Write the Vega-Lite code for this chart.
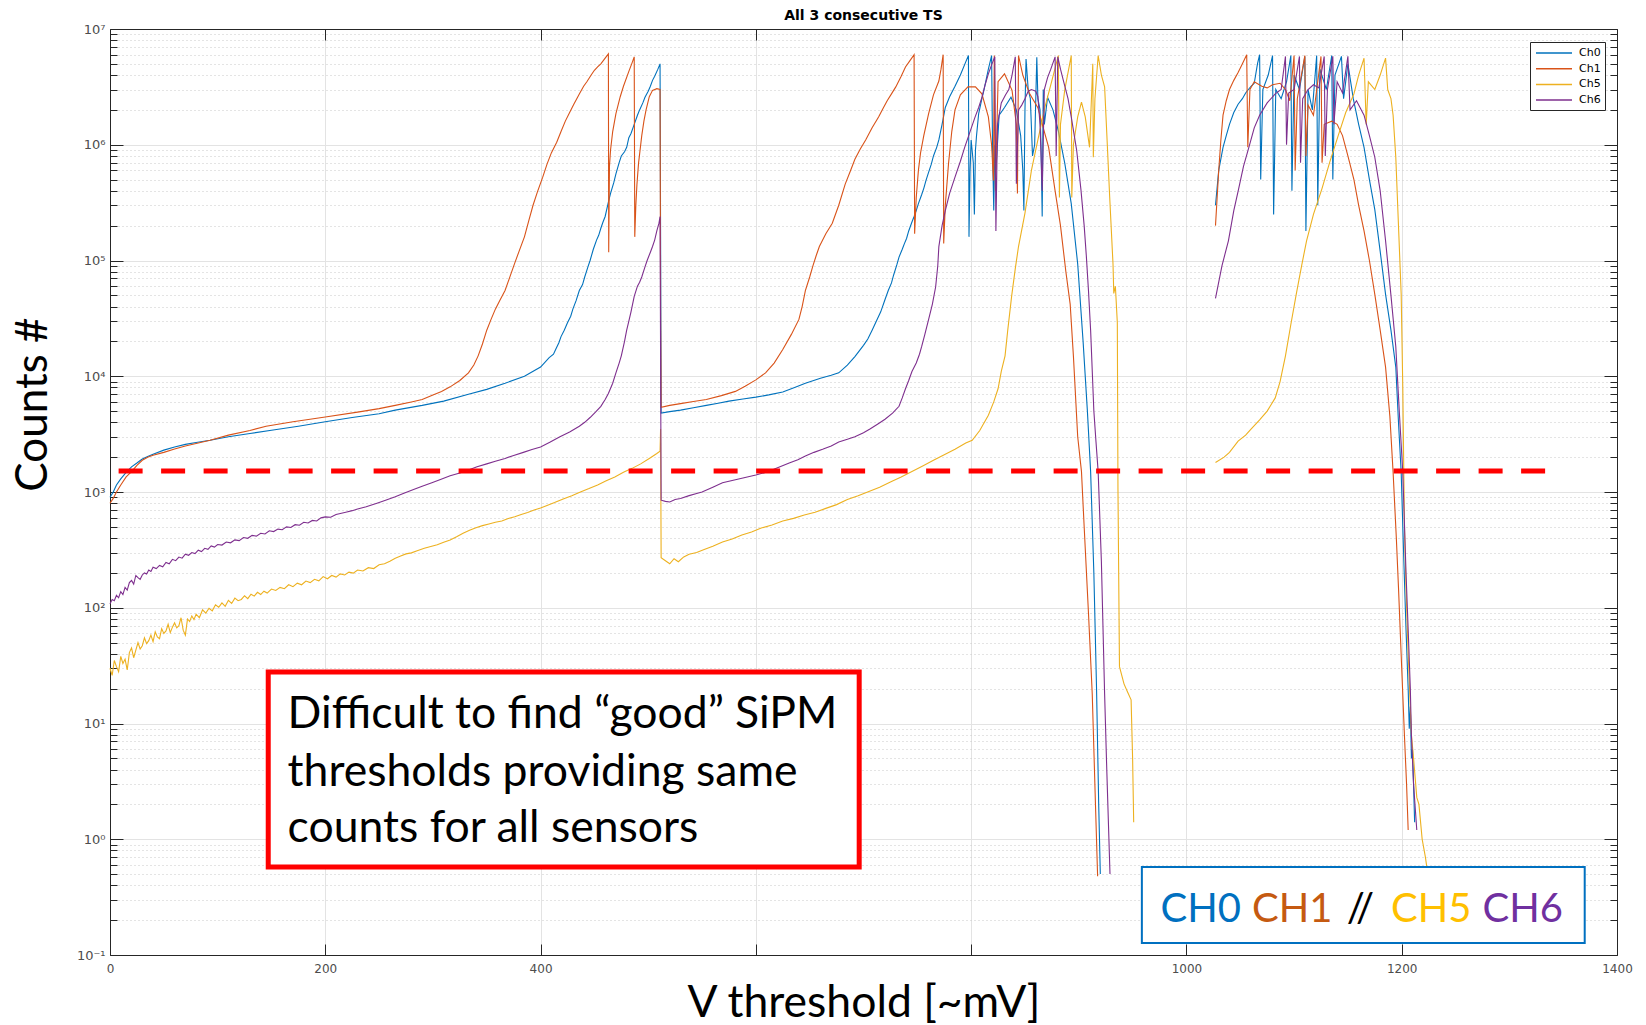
{
 "$schema": "https://vega.github.io/schema/vega-lite/v6.json",
 "width": 1507,
 "height": 926,
 "autosize": "none",
 "padding": {"left": 110, "top": 29, "right": 29, "bottom": 70},
 "background": "white",
 "title": {"text": "All 3 consecutive TS", "font": "DejaVu Sans", "fontSize": 14, "fontWeight": "bold", "color": "#000000", "anchor": "middle", "offset": 0},
 "config": {"view": {"stroke": null}},
 "datasets": {
  "series": [
   {"ch":"Ch0","seg":"a","x":0,"y":900},{"ch":"Ch0","seg":"a","x":3,"y":1000},{"ch":"Ch0","seg":"a","x":6,"y":1150},{"ch":"Ch0","seg":"a","x":10,"y":1300},{"ch":"Ch0","seg":"a","x":15,"y":1480},{"ch":"Ch0","seg":"a","x":20,"y":1650},{"ch":"Ch0","seg":"a","x":25,"y":1780},{"ch":"Ch0","seg":"a","x":30,"y":1930},{"ch":"Ch0","seg":"a","x":35,"y":2030},{"ch":"Ch0","seg":"a","x":40,"y":2120},{"ch":"Ch0","seg":"a","x":50,"y":2300},{"ch":"Ch0","seg":"a","x":60,"y":2450},{"ch":"Ch0","seg":"a","x":70,"y":2580},{"ch":"Ch0","seg":"a","x":80,"y":2680},{"ch":"Ch0","seg":"a","x":93,"y":2800},{"ch":"Ch0","seg":"a","x":110,"y":3000},{"ch":"Ch0","seg":"a","x":130,"y":3200},{"ch":"Ch0","seg":"a","x":150,"y":3420},{"ch":"Ch0","seg":"a","x":175,"y":3700},{"ch":"Ch0","seg":"a","x":200,"y":4050},{"ch":"Ch0","seg":"a","x":225,"y":4400},{"ch":"Ch0","seg":"a","x":250,"y":4750},{"ch":"Ch0","seg":"a","x":265,"y":5100},{"ch":"Ch0","seg":"a","x":290,"y":5600},{"ch":"Ch0","seg":"a","x":310,"y":6100},{"ch":"Ch0","seg":"a","x":333,"y":7000},{"ch":"Ch0","seg":"a","x":350,"y":7700},{"ch":"Ch0","seg":"a","x":367,"y":8700},{"ch":"Ch0","seg":"a","x":385,"y":10000},{"ch":"Ch0","seg":"a","x":400,"y":12000},{"ch":"Ch0","seg":"a","x":408,"y":14500},{"ch":"Ch0","seg":"a","x":412,"y":15500},{"ch":"Ch0","seg":"a","x":414,"y":17000},{"ch":"Ch0","seg":"a","x":417,"y":19500},{"ch":"Ch0","seg":"a","x":419,"y":22000},{"ch":"Ch0","seg":"a","x":422,"y":25000},{"ch":"Ch0","seg":"a","x":425,"y":29000},{"ch":"Ch0","seg":"a","x":428,"y":33000},{"ch":"Ch0","seg":"a","x":430,"y":38000},{"ch":"Ch0","seg":"a","x":433,"y":45000},{"ch":"Ch0","seg":"a","x":436,"y":55000},{"ch":"Ch0","seg":"a","x":439,"y":62000},{"ch":"Ch0","seg":"a","x":441,"y":72000},{"ch":"Ch0","seg":"a","x":444,"y":88000},{"ch":"Ch0","seg":"a","x":446,"y":100000},{"ch":"Ch0","seg":"a","x":449,"y":125000},{"ch":"Ch0","seg":"a","x":452,"y":150000},{"ch":"Ch0","seg":"a","x":454,"y":165000},{"ch":"Ch0","seg":"a","x":456,"y":190000},{"ch":"Ch0","seg":"a","x":458,"y":215000},{"ch":"Ch0","seg":"a","x":460,"y":240000},{"ch":"Ch0","seg":"a","x":463,"y":320000},{"ch":"Ch0","seg":"a","x":465,"y":380000},{"ch":"Ch0","seg":"a","x":468,"y":470000},{"ch":"Ch0","seg":"a","x":470,"y":560000},{"ch":"Ch0","seg":"a","x":473,"y":700000},{"ch":"Ch0","seg":"a","x":475,"y":800000},{"ch":"Ch0","seg":"a","x":478,"y":870000},{"ch":"Ch0","seg":"a","x":480,"y":950000},{"ch":"Ch0","seg":"a","x":482,"y":1150000},{"ch":"Ch0","seg":"a","x":484,"y":1250000},{"ch":"Ch0","seg":"a","x":487,"y":1500000},{"ch":"Ch0","seg":"a","x":490,"y":1800000},{"ch":"Ch0","seg":"a","x":492,"y":2000000},{"ch":"Ch0","seg":"a","x":495,"y":2300000},{"ch":"Ch0","seg":"a","x":497,"y":2570000},{"ch":"Ch0","seg":"a","x":500,"y":2900000},{"ch":"Ch0","seg":"a","x":502,"y":3200000},{"ch":"Ch0","seg":"a","x":504,"y":3600000},{"ch":"Ch0","seg":"a","x":506,"y":3900000},{"ch":"Ch0","seg":"a","x":509,"y":4500000},{"ch":"Ch0","seg":"a","x":511,"y":5000000},{"ch":"Ch0","seg":"a","x":511.5,"y":160000},{"ch":"Ch0","seg":"a","x":512,"y":4800},
   {"ch":"Ch0","seg":"a","x":520,"y":4950},{"ch":"Ch0","seg":"a","x":530,"y":5100},{"ch":"Ch0","seg":"a","x":542,"y":5350},{"ch":"Ch0","seg":"a","x":554,"y":5600},{"ch":"Ch0","seg":"a","x":565,"y":5850},{"ch":"Ch0","seg":"a","x":575,"y":6100},{"ch":"Ch0","seg":"a","x":588,"y":6350},{"ch":"Ch0","seg":"a","x":600,"y":6600},{"ch":"Ch0","seg":"a","x":612,"y":6900},{"ch":"Ch0","seg":"a","x":625,"y":7300},{"ch":"Ch0","seg":"a","x":636,"y":8000},{"ch":"Ch0","seg":"a","x":646,"y":8700},{"ch":"Ch0","seg":"a","x":660,"y":9600},{"ch":"Ch0","seg":"a","x":670,"y":10200},{"ch":"Ch0","seg":"a","x":677,"y":10700},{"ch":"Ch0","seg":"a","x":685,"y":12500},{"ch":"Ch0","seg":"a","x":692,"y":14800},{"ch":"Ch0","seg":"a","x":700,"y":18500},{"ch":"Ch0","seg":"a","x":704,"y":21000},{"ch":"Ch0","seg":"a","x":708,"y":25000},{"ch":"Ch0","seg":"a","x":712,"y":30000},{"ch":"Ch0","seg":"a","x":716,"y":36000},{"ch":"Ch0","seg":"a","x":720,"y":46000},{"ch":"Ch0","seg":"a","x":723,"y":55000},{"ch":"Ch0","seg":"a","x":726,"y":64000},{"ch":"Ch0","seg":"a","x":728,"y":75000},{"ch":"Ch0","seg":"a","x":731,"y":92000},{"ch":"Ch0","seg":"a","x":733,"y":107000},{"ch":"Ch0","seg":"a","x":736,"y":125000},{"ch":"Ch0","seg":"a","x":738,"y":140000},{"ch":"Ch0","seg":"a","x":740,"y":155000},{"ch":"Ch0","seg":"a","x":742,"y":180000},{"ch":"Ch0","seg":"a","x":745,"y":215000},{"ch":"Ch0","seg":"a","x":747,"y":240000},{"ch":"Ch0","seg":"a","x":749,"y":270000},{"ch":"Ch0","seg":"a","x":751,"y":310000},{"ch":"Ch0","seg":"a","x":754,"y":370000},{"ch":"Ch0","seg":"a","x":756,"y":420000},{"ch":"Ch0","seg":"a","x":758,"y":490000},{"ch":"Ch0","seg":"a","x":760,"y":560000},{"ch":"Ch0","seg":"a","x":763,"y":680000},{"ch":"Ch0","seg":"a","x":765,"y":800000},{"ch":"Ch0","seg":"a","x":768,"y":950000},{"ch":"Ch0","seg":"a","x":770,"y":1100000},{"ch":"Ch0","seg":"a","x":773,"y":1500000},{"ch":"Ch0","seg":"a","x":776,"y":2100000},{"ch":"Ch0","seg":"a","x":780,"y":2600000},{"ch":"Ch0","seg":"a","x":785,"y":3200000},{"ch":"Ch0","seg":"a","x":790,"y":4000000},{"ch":"Ch0","seg":"a","x":795,"y":5200000},{"ch":"Ch0","seg":"a","x":797.5,"y":5900000},{"ch":"Ch0","seg":"a","x":798,"y":160000},{"ch":"Ch0","seg":"a","x":799,"y":600000},{"ch":"Ch0","seg":"a","x":800,"y":1100000},{"ch":"Ch0","seg":"a","x":802,"y":700000},{"ch":"Ch0","seg":"a","x":803,"y":250000},{"ch":"Ch0","seg":"a","x":804,"y":900000},{"ch":"Ch0","seg":"a","x":805,"y":1200000},{"ch":"Ch0","seg":"a","x":807,"y":1860000},{"ch":"Ch0","seg":"a","x":810,"y":2500000},{"ch":"Ch0","seg":"a","x":812,"y":3000000},{"ch":"Ch0","seg":"a","x":816,"y":4500000},{"ch":"Ch0","seg":"a","x":819,"y":5900000},{"ch":"Ch0","seg":"a","x":820,"y":800000},{"ch":"Ch0","seg":"a","x":821,"y":270000},{"ch":"Ch0","seg":"a","x":822,"y":1000000},{"ch":"Ch0","seg":"a","x":823,"y":600000},{"ch":"Ch0","seg":"a","x":826,"y":1800000},{"ch":"Ch0","seg":"a","x":831,"y":2100000},{"ch":"Ch0","seg":"a","x":837,"y":2570000},{"ch":"Ch0","seg":"a","x":842,"y":2000000},{"ch":"Ch0","seg":"a","x":846,"y":1200000},{"ch":"Ch0","seg":"a","x":848,"y":600000},{"ch":"Ch0","seg":"a","x":849,"y":270000},{"ch":"Ch0","seg":"a","x":850,"y":2000000},{"ch":"Ch0","seg":"a","x":851,"y":5500000},{"ch":"Ch0","seg":"a","x":853,"y":3000000},{"ch":"Ch0","seg":"a","x":855,"y":2500000},{"ch":"Ch0","seg":"a","x":857,"y":800000},{"ch":"Ch0","seg":"a","x":859,"y":1000000},{"ch":"Ch0","seg":"a","x":861,"y":5700000},{"ch":"Ch0","seg":"a","x":862,"y":2500000},{"ch":"Ch0","seg":"a","x":864,"y":2000000},{"ch":"Ch0","seg":"a","x":865,"y":900000},{"ch":"Ch0","seg":"a","x":866,"y":240000},{"ch":"Ch0","seg":"a","x":867,"y":3000000},{"ch":"Ch0","seg":"a","x":868,"y":1500000},{"ch":"Ch0","seg":"a","x":871,"y":2570000},{"ch":"Ch0","seg":"a","x":876,"y":2000000},{"ch":"Ch0","seg":"a","x":881,"y":1320000},{"ch":"Ch0","seg":"a","x":887,"y":690000},{"ch":"Ch0","seg":"a","x":893,"y":310000},{"ch":"Ch0","seg":"a","x":899,"y":93000},{"ch":"Ch0","seg":"a","x":904,"y":20000},{"ch":"Ch0","seg":"a","x":908,"y":5000},{"ch":"Ch0","seg":"a","x":911,"y":1500},{"ch":"Ch0","seg":"a","x":914,"y":200},{"ch":"Ch0","seg":"a","x":916.5,"y":20},{"ch":"Ch0","seg":"a","x":918.5,"y":2},{"ch":"Ch0","seg":"a","x":920,"y":0.5},
   {"ch":"Ch0","seg":"b","x":1027,"y":300000},{"ch":"Ch0","seg":"b","x":1030,"y":600000},{"ch":"Ch0","seg":"b","x":1034,"y":950000},{"ch":"Ch0","seg":"b","x":1037,"y":1200000},{"ch":"Ch0","seg":"b","x":1040,"y":1500000},{"ch":"Ch0","seg":"b","x":1044,"y":1900000},{"ch":"Ch0","seg":"b","x":1048,"y":2240000},{"ch":"Ch0","seg":"b","x":1052,"y":2500000},{"ch":"Ch0","seg":"b","x":1055,"y":2800000},{"ch":"Ch0","seg":"b","x":1060,"y":3200000},{"ch":"Ch0","seg":"b","x":1063,"y":3400000},{"ch":"Ch0","seg":"b","x":1066,"y":5000000},{"ch":"Ch0","seg":"b","x":1068,"y":6000000},{"ch":"Ch0","seg":"b","x":1069,"y":500000},{"ch":"Ch0","seg":"b","x":1071,"y":3000000},{"ch":"Ch0","seg":"b","x":1076,"y":4000000},{"ch":"Ch0","seg":"b","x":1080,"y":5900000},{"ch":"Ch0","seg":"b","x":1081,"y":250000},{"ch":"Ch0","seg":"b","x":1083,"y":3000000},{"ch":"Ch0","seg":"b","x":1088,"y":2500000},{"ch":"Ch0","seg":"b","x":1093,"y":3500000},{"ch":"Ch0","seg":"b","x":1097,"y":5900000},{"ch":"Ch0","seg":"b","x":1098,"y":400000},{"ch":"Ch0","seg":"b","x":1100,"y":4000000},{"ch":"Ch0","seg":"b","x":1105,"y":3000000},{"ch":"Ch0","seg":"b","x":1110,"y":5800000},{"ch":"Ch0","seg":"b","x":1111,"y":180000},{"ch":"Ch0","seg":"b","x":1113,"y":3000000},{"ch":"Ch0","seg":"b","x":1117,"y":2000000},{"ch":"Ch0","seg":"b","x":1121,"y":5900000},{"ch":"Ch0","seg":"b","x":1122,"y":300000},{"ch":"Ch0","seg":"b","x":1124,"y":4500000},{"ch":"Ch0","seg":"b","x":1130,"y":3000000},{"ch":"Ch0","seg":"b","x":1135,"y":5900000},{"ch":"Ch0","seg":"b","x":1136,"y":500000},{"ch":"Ch0","seg":"b","x":1138,"y":4000000},{"ch":"Ch0","seg":"b","x":1144,"y":5800000},{"ch":"Ch0","seg":"b","x":1146,"y":2500000},{"ch":"Ch0","seg":"b","x":1150,"y":5000000},{"ch":"Ch0","seg":"b","x":1155,"y":2500000},{"ch":"Ch0","seg":"b","x":1160,"y":1500000},{"ch":"Ch0","seg":"b","x":1165,"y":950000},{"ch":"Ch0","seg":"b","x":1170,"y":500000},{"ch":"Ch0","seg":"b","x":1175,"y":275000},{"ch":"Ch0","seg":"b","x":1180,"y":120000},{"ch":"Ch0","seg":"b","x":1185,"y":51000},{"ch":"Ch0","seg":"b","x":1190,"y":25000},{"ch":"Ch0","seg":"b","x":1194.5,"y":12000},{"ch":"Ch0","seg":"b","x":1197,"y":4000},{"ch":"Ch0","seg":"b","x":1199.5,"y":1480},{"ch":"Ch0","seg":"b","x":1202,"y":250},{"ch":"Ch0","seg":"b","x":1204,"y":65},{"ch":"Ch0","seg":"b","x":1206,"y":20},{"ch":"Ch0","seg":"b","x":1207,"y":9},{"ch":"Ch0","seg":"b","x":1208,"y":14},{"ch":"Ch0","seg":"b","x":1209,"y":5},{"ch":"Ch0","seg":"b","x":1210,"y":6},{"ch":"Ch0","seg":"b","x":1211,"y":3},{"ch":"Ch0","seg":"b","x":1212,"y":1.4},

   {"ch":"Ch1","seg":"a","x":0,"y":800},{"ch":"Ch1","seg":"a","x":3,"y":880},{"ch":"Ch1","seg":"a","x":6,"y":1000},{"ch":"Ch1","seg":"a","x":10,"y":1150},{"ch":"Ch1","seg":"a","x":15,"y":1350},{"ch":"Ch1","seg":"a","x":20,"y":1500},{"ch":"Ch1","seg":"a","x":25,"y":1700},{"ch":"Ch1","seg":"a","x":30,"y":1880},{"ch":"Ch1","seg":"a","x":35,"y":2000},{"ch":"Ch1","seg":"a","x":40,"y":2080},{"ch":"Ch1","seg":"a","x":50,"y":2200},{"ch":"Ch1","seg":"a","x":60,"y":2350},{"ch":"Ch1","seg":"a","x":70,"y":2500},{"ch":"Ch1","seg":"a","x":80,"y":2620},{"ch":"Ch1","seg":"a","x":93,"y":2800},{"ch":"Ch1","seg":"a","x":110,"y":3100},{"ch":"Ch1","seg":"a","x":130,"y":3400},{"ch":"Ch1","seg":"a","x":145,"y":3700},{"ch":"Ch1","seg":"a","x":170,"y":4050},{"ch":"Ch1","seg":"a","x":200,"y":4450},{"ch":"Ch1","seg":"a","x":230,"y":4900},{"ch":"Ch1","seg":"a","x":250,"y":5250},{"ch":"Ch1","seg":"a","x":265,"y":5600},{"ch":"Ch1","seg":"a","x":280,"y":6000},{"ch":"Ch1","seg":"a","x":290,"y":6300},{"ch":"Ch1","seg":"a","x":300,"y":6900},{"ch":"Ch1","seg":"a","x":308,"y":7400},{"ch":"Ch1","seg":"a","x":316,"y":8100},{"ch":"Ch1","seg":"a","x":325,"y":9200},{"ch":"Ch1","seg":"a","x":333,"y":10700},{"ch":"Ch1","seg":"a","x":338,"y":12500},{"ch":"Ch1","seg":"a","x":342,"y":15000},{"ch":"Ch1","seg":"a","x":346,"y":19000},{"ch":"Ch1","seg":"a","x":350,"y":25000},{"ch":"Ch1","seg":"a","x":354,"y":31000},{"ch":"Ch1","seg":"a","x":358,"y":38000},{"ch":"Ch1","seg":"a","x":362,"y":45000},{"ch":"Ch1","seg":"a","x":367,"y":55000},{"ch":"Ch1","seg":"a","x":371,"y":70000},{"ch":"Ch1","seg":"a","x":376,"y":95000},{"ch":"Ch1","seg":"a","x":380,"y":120000},{"ch":"Ch1","seg":"a","x":385,"y":160000},{"ch":"Ch1","seg":"a","x":389,"y":220000},{"ch":"Ch1","seg":"a","x":393,"y":300000},{"ch":"Ch1","seg":"a","x":397,"y":390000},{"ch":"Ch1","seg":"a","x":402,"y":525000},{"ch":"Ch1","seg":"a","x":406,"y":680000},{"ch":"Ch1","seg":"a","x":410,"y":850000},{"ch":"Ch1","seg":"a","x":415,"y":1050000},{"ch":"Ch1","seg":"a","x":419,"y":1300000},{"ch":"Ch1","seg":"a","x":423,"y":1600000},{"ch":"Ch1","seg":"a","x":427,"y":1900000},{"ch":"Ch1","seg":"a","x":431,"y":2250000},{"ch":"Ch1","seg":"a","x":436,"y":2750000},{"ch":"Ch1","seg":"a","x":440,"y":3200000},{"ch":"Ch1","seg":"a","x":443,"y":3500000},{"ch":"Ch1","seg":"a","x":447,"y":4000000},{"ch":"Ch1","seg":"a","x":450,"y":4400000},{"ch":"Ch1","seg":"a","x":453,"y":4700000},{"ch":"Ch1","seg":"a","x":456,"y":5000000},{"ch":"Ch1","seg":"a","x":460,"y":5600000},{"ch":"Ch1","seg":"a","x":463,"y":6100000},{"ch":"Ch1","seg":"a","x":463.3,"y":118000},{"ch":"Ch1","seg":"a","x":464,"y":650000},{"ch":"Ch1","seg":"a","x":465,"y":900000},{"ch":"Ch1","seg":"a","x":467,"y":1300000},{"ch":"Ch1","seg":"a","x":470,"y":1860000},{"ch":"Ch1","seg":"a","x":474,"y":2600000},{"ch":"Ch1","seg":"a","x":477,"y":3200000},{"ch":"Ch1","seg":"a","x":482,"y":4300000},{"ch":"Ch1","seg":"a","x":485,"y":5100000},{"ch":"Ch1","seg":"a","x":487,"y":5750000},{"ch":"Ch1","seg":"a","x":487.5,"y":160000},{"ch":"Ch1","seg":"a","x":488.5,"y":300000},{"ch":"Ch1","seg":"a","x":489.5,"y":450000},{"ch":"Ch1","seg":"a","x":491,"y":690000},{"ch":"Ch1","seg":"a","x":494,"y":1200000},{"ch":"Ch1","seg":"a","x":496,"y":1600000},{"ch":"Ch1","seg":"a","x":498,"y":2000000},{"ch":"Ch1","seg":"a","x":501,"y":2600000},{"ch":"Ch1","seg":"a","x":504,"y":2950000},{"ch":"Ch1","seg":"a","x":508,"y":3050000},{"ch":"Ch1","seg":"a","x":511,"y":3000000},{"ch":"Ch1","seg":"a","x":511.5,"y":40000},{"ch":"Ch1","seg":"a","x":512,"y":5400},
   {"ch":"Ch1","seg":"a","x":520,"y":5600},{"ch":"Ch1","seg":"a","x":530,"y":5800},{"ch":"Ch1","seg":"a","x":542,"y":6050},{"ch":"Ch1","seg":"a","x":554,"y":6300},{"ch":"Ch1","seg":"a","x":568,"y":6800},{"ch":"Ch1","seg":"a","x":581,"y":7400},{"ch":"Ch1","seg":"a","x":590,"y":8200},{"ch":"Ch1","seg":"a","x":600,"y":9300},{"ch":"Ch1","seg":"a","x":609,"y":10700},{"ch":"Ch1","seg":"a","x":617,"y":13000},{"ch":"Ch1","seg":"a","x":625,"y":17000},{"ch":"Ch1","seg":"a","x":633,"y":23000},{"ch":"Ch1","seg":"a","x":640,"y":31000},{"ch":"Ch1","seg":"a","x":643,"y":40000},{"ch":"Ch1","seg":"a","x":646,"y":55000},{"ch":"Ch1","seg":"a","x":650,"y":72000},{"ch":"Ch1","seg":"a","x":653,"y":90000},{"ch":"Ch1","seg":"a","x":656,"y":110000},{"ch":"Ch1","seg":"a","x":659,"y":132000},{"ch":"Ch1","seg":"a","x":665,"y":170000},{"ch":"Ch1","seg":"a","x":671,"y":210000},{"ch":"Ch1","seg":"a","x":677,"y":300000},{"ch":"Ch1","seg":"a","x":683,"y":457000},{"ch":"Ch1","seg":"a","x":688,"y":600000},{"ch":"Ch1","seg":"a","x":692,"y":750000},{"ch":"Ch1","seg":"a","x":697,"y":920000},{"ch":"Ch1","seg":"a","x":702,"y":1100000},{"ch":"Ch1","seg":"a","x":708,"y":1400000},{"ch":"Ch1","seg":"a","x":714,"y":1740000},{"ch":"Ch1","seg":"a","x":718,"y":2050000},{"ch":"Ch1","seg":"a","x":722,"y":2400000},{"ch":"Ch1","seg":"a","x":726,"y":2750000},{"ch":"Ch1","seg":"a","x":730,"y":3160000},{"ch":"Ch1","seg":"a","x":735,"y":3900000},{"ch":"Ch1","seg":"a","x":739,"y":4700000},{"ch":"Ch1","seg":"a","x":743,"y":5300000},{"ch":"Ch1","seg":"a","x":747,"y":6000000},{"ch":"Ch1","seg":"a","x":747.5,"y":170000},{"ch":"Ch1","seg":"a","x":749,"y":350000},{"ch":"Ch1","seg":"a","x":751,"y":600000},{"ch":"Ch1","seg":"a","x":753,"y":850000},{"ch":"Ch1","seg":"a","x":756,"y":1200000},{"ch":"Ch1","seg":"a","x":760.5,"y":1860000},{"ch":"Ch1","seg":"a","x":765,"y":2700000},{"ch":"Ch1","seg":"a","x":770,"y":3550000},{"ch":"Ch1","seg":"a","x":772,"y":4500000},{"ch":"Ch1","seg":"a","x":774,"y":6000000},{"ch":"Ch1","seg":"a","x":774.5,"y":140000},{"ch":"Ch1","seg":"a","x":776,"y":300000},{"ch":"Ch1","seg":"a","x":779,"y":690000},{"ch":"Ch1","seg":"a","x":782,"y":1300000},{"ch":"Ch1","seg":"a","x":785,"y":2000000},{"ch":"Ch1","seg":"a","x":790,"y":2700000},{"ch":"Ch1","seg":"a","x":797,"y":3160000},{"ch":"Ch1","seg":"a","x":804,"y":3160000},{"ch":"Ch1","seg":"a","x":810,"y":2750000},{"ch":"Ch1","seg":"a","x":816,"y":1740000},{"ch":"Ch1","seg":"a","x":819,"y":1000000},{"ch":"Ch1","seg":"a","x":820.7,"y":490000},{"ch":"Ch1","seg":"a","x":821.5,"y":5900000},{"ch":"Ch1","seg":"a","x":822.5,"y":400000},{"ch":"Ch1","seg":"a","x":825,"y":3500000},{"ch":"Ch1","seg":"a","x":831,"y":4100000},{"ch":"Ch1","seg":"a","x":838,"y":2950000},{"ch":"Ch1","seg":"a","x":842,"y":1500000},{"ch":"Ch1","seg":"a","x":843,"y":380000},{"ch":"Ch1","seg":"a","x":844,"y":5900000},{"ch":"Ch1","seg":"a","x":848,"y":4000000},{"ch":"Ch1","seg":"a","x":854,"y":2800000},{"ch":"Ch1","seg":"a","x":862,"y":2090000},{"ch":"Ch1","seg":"a","x":867,"y":1400000},{"ch":"Ch1","seg":"a","x":872,"y":950000},{"ch":"Ch1","seg":"a","x":878,"y":400000},{"ch":"Ch1","seg":"a","x":883,"y":200000},{"ch":"Ch1","seg":"a","x":888,"y":80000},{"ch":"Ch1","seg":"a","x":892,"y":42000},{"ch":"Ch1","seg":"a","x":895,"y":15000},{"ch":"Ch1","seg":"a","x":899,"y":3000},{"ch":"Ch1","seg":"a","x":902.5,"y":1500},{"ch":"Ch1","seg":"a","x":905,"y":500},{"ch":"Ch1","seg":"a","x":909,"y":90},{"ch":"Ch1","seg":"a","x":912.5,"y":18},{"ch":"Ch1","seg":"a","x":915.5,"y":2},{"ch":"Ch1","seg":"a","x":917.5,"y":0.48},
   {"ch":"Ch1","seg":"b","x":1027,"y":200000},{"ch":"Ch1","seg":"b","x":1030,"y":600000},{"ch":"Ch1","seg":"b","x":1032,"y":1100000},{"ch":"Ch1","seg":"b","x":1034,"y":1800000},{"ch":"Ch1","seg":"b","x":1037,"y":2400000},{"ch":"Ch1","seg":"b","x":1040,"y":3000000},{"ch":"Ch1","seg":"b","x":1044,"y":3600000},{"ch":"Ch1","seg":"b","x":1048,"y":4200000},{"ch":"Ch1","seg":"b","x":1052,"y":5000000},{"ch":"Ch1","seg":"b","x":1056,"y":6000000},{"ch":"Ch1","seg":"b","x":1057,"y":950000},{"ch":"Ch1","seg":"b","x":1059,"y":3000000},{"ch":"Ch1","seg":"b","x":1063,"y":3500000},{"ch":"Ch1","seg":"b","x":1070,"y":3200000},{"ch":"Ch1","seg":"b","x":1075,"y":3100000},{"ch":"Ch1","seg":"b","x":1080,"y":3300000},{"ch":"Ch1","seg":"b","x":1087,"y":3400000},{"ch":"Ch1","seg":"b","x":1092,"y":3000000},{"ch":"Ch1","seg":"b","x":1096,"y":2400000},{"ch":"Ch1","seg":"b","x":1100,"y":5900000},{"ch":"Ch1","seg":"b","x":1101,"y":600000},{"ch":"Ch1","seg":"b","x":1103,"y":2500000},{"ch":"Ch1","seg":"b","x":1110,"y":5900000},{"ch":"Ch1","seg":"b","x":1111,"y":800000},{"ch":"Ch1","seg":"b","x":1113,"y":2200000},{"ch":"Ch1","seg":"b","x":1118,"y":1800000},{"ch":"Ch1","seg":"b","x":1125,"y":5800000},{"ch":"Ch1","seg":"b","x":1126,"y":700000},{"ch":"Ch1","seg":"b","x":1128,"y":1500000},{"ch":"Ch1","seg":"b","x":1135,"y":1600000},{"ch":"Ch1","seg":"b","x":1140,"y":1500000},{"ch":"Ch1","seg":"b","x":1145,"y":1200000},{"ch":"Ch1","seg":"b","x":1150,"y":800000},{"ch":"Ch1","seg":"b","x":1155.6,"y":500000},{"ch":"Ch1","seg":"b","x":1160,"y":300000},{"ch":"Ch1","seg":"b","x":1165,"y":180000},{"ch":"Ch1","seg":"b","x":1170,"y":100000},{"ch":"Ch1","seg":"b","x":1175,"y":51000},{"ch":"Ch1","seg":"b","x":1180,"y":25000},{"ch":"Ch1","seg":"b","x":1185,"y":12000},{"ch":"Ch1","seg":"b","x":1189,"y":4500},{"ch":"Ch1","seg":"b","x":1192,"y":1480},{"ch":"Ch1","seg":"b","x":1195,"y":400},{"ch":"Ch1","seg":"b","x":1197,"y":150},{"ch":"Ch1","seg":"b","x":1200,"y":30},{"ch":"Ch1","seg":"b","x":1202.5,"y":8},{"ch":"Ch1","seg":"b","x":1204.5,"y":3},{"ch":"Ch1","seg":"b","x":1206,"y":1.2},

   {"ch":"Ch5","seg":"a","x":0,"y":30},{"ch":"Ch5","seg":"a","x":2,"y":26},{"ch":"Ch5","seg":"a","x":4,"y":35},{"ch":"Ch5","seg":"a","x":6,"y":31},{"ch":"Ch5","seg":"a","x":8,"y":28},{"ch":"Ch5","seg":"a","x":10,"y":38},{"ch":"Ch5","seg":"a","x":12,"y":33},{"ch":"Ch5","seg":"a","x":14,"y":36},{"ch":"Ch5","seg":"a","x":16,"y":29},{"ch":"Ch5","seg":"a","x":18,"y":41},{"ch":"Ch5","seg":"a","x":20,"y":45},{"ch":"Ch5","seg":"a","x":22,"y":37},{"ch":"Ch5","seg":"a","x":24,"y":43},{"ch":"Ch5","seg":"a","x":26,"y":50},{"ch":"Ch5","seg":"a","x":28,"y":44},{"ch":"Ch5","seg":"a","x":30,"y":47},{"ch":"Ch5","seg":"a","x":32,"y":55},{"ch":"Ch5","seg":"a","x":34,"y":49},{"ch":"Ch5","seg":"a","x":36,"y":52},{"ch":"Ch5","seg":"a","x":38,"y":58},{"ch":"Ch5","seg":"a","x":40,"y":51},{"ch":"Ch5","seg":"a","x":42,"y":62},{"ch":"Ch5","seg":"a","x":44,"y":56},{"ch":"Ch5","seg":"a","x":46,"y":54},{"ch":"Ch5","seg":"a","x":48,"y":66},{"ch":"Ch5","seg":"a","x":50,"y":60},{"ch":"Ch5","seg":"a","x":52,"y":63},{"ch":"Ch5","seg":"a","x":54,"y":72},{"ch":"Ch5","seg":"a","x":56,"y":61},{"ch":"Ch5","seg":"a","x":58,"y":68},{"ch":"Ch5","seg":"a","x":60,"y":74},{"ch":"Ch5","seg":"a","x":62,"y":67},{"ch":"Ch5","seg":"a","x":64,"y":70},{"ch":"Ch5","seg":"a","x":66,"y":82},{"ch":"Ch5","seg":"a","x":68,"y":64},{"ch":"Ch5","seg":"a","x":70,"y":58},{"ch":"Ch5","seg":"a","x":72,"y":80},{"ch":"Ch5","seg":"a","x":74,"y":76},{"ch":"Ch5","seg":"a","x":76,"y":85},{"ch":"Ch5","seg":"a","x":78,"y":79},{"ch":"Ch5","seg":"a","x":80,"y":88},{"ch":"Ch5","seg":"a","x":83,"y":82},{"ch":"Ch5","seg":"a","x":86,"y":96},{"ch":"Ch5","seg":"a","x":89,"y":90},{"ch":"Ch5","seg":"a","x":92,"y":99},{"ch":"Ch5","seg":"a","x":95,"y":94},{"ch":"Ch5","seg":"a","x":98,"y":106},{"ch":"Ch5","seg":"a","x":101,"y":101},{"ch":"Ch5","seg":"a","x":104,"y":110},{"ch":"Ch5","seg":"a","x":107,"y":103},{"ch":"Ch5","seg":"a","x":110,"y":116},{"ch":"Ch5","seg":"a","x":113,"y":109},{"ch":"Ch5","seg":"a","x":116,"y":121},{"ch":"Ch5","seg":"a","x":119,"y":115},{"ch":"Ch5","seg":"a","x":122,"y":118},{"ch":"Ch5","seg":"a","x":125,"y":127},{"ch":"Ch5","seg":"a","x":128,"y":120},{"ch":"Ch5","seg":"a","x":131,"y":131},{"ch":"Ch5","seg":"a","x":134,"y":126},{"ch":"Ch5","seg":"a","x":137,"y":136},{"ch":"Ch5","seg":"a","x":140,"y":130},{"ch":"Ch5","seg":"a","x":143,"y":139},{"ch":"Ch5","seg":"a","x":146,"y":134},{"ch":"Ch5","seg":"a","x":150,"y":145},{"ch":"Ch5","seg":"a","x":154,"y":141},{"ch":"Ch5","seg":"a","x":158,"y":150},{"ch":"Ch5","seg":"a","x":162,"y":146},{"ch":"Ch5","seg":"a","x":166,"y":158},{"ch":"Ch5","seg":"a","x":170,"y":152},{"ch":"Ch5","seg":"a","x":174,"y":163},{"ch":"Ch5","seg":"a","x":178,"y":158},{"ch":"Ch5","seg":"a","x":182,"y":170},{"ch":"Ch5","seg":"a","x":186,"y":165},{"ch":"Ch5","seg":"a","x":190,"y":176},{"ch":"Ch5","seg":"a","x":194,"y":171},{"ch":"Ch5","seg":"a","x":198,"y":186},{"ch":"Ch5","seg":"a","x":202,"y":178},{"ch":"Ch5","seg":"a","x":206,"y":190},{"ch":"Ch5","seg":"a","x":210,"y":184},{"ch":"Ch5","seg":"a","x":214,"y":196},{"ch":"Ch5","seg":"a","x":218,"y":192},{"ch":"Ch5","seg":"a","x":222,"y":203},{"ch":"Ch5","seg":"a","x":226,"y":199},{"ch":"Ch5","seg":"a","x":230,"y":212},{"ch":"Ch5","seg":"a","x":235,"y":208},{"ch":"Ch5","seg":"a","x":240,"y":222},{"ch":"Ch5","seg":"a","x":245,"y":218},{"ch":"Ch5","seg":"a","x":250,"y":235},{"ch":"Ch5","seg":"a","x":255,"y":240},{"ch":"Ch5","seg":"a","x":260,"y":252},{"ch":"Ch5","seg":"a","x":265,"y":268},{"ch":"Ch5","seg":"a","x":270,"y":280},{"ch":"Ch5","seg":"a","x":275,"y":292},{"ch":"Ch5","seg":"a","x":280,"y":298},{"ch":"Ch5","seg":"a","x":286,"y":312},{"ch":"Ch5","seg":"a","x":292,"y":326},{"ch":"Ch5","seg":"a","x":298,"y":338},{"ch":"Ch5","seg":"a","x":304,"y":350},{"ch":"Ch5","seg":"a","x":310,"y":368},{"ch":"Ch5","seg":"a","x":316,"y":385},{"ch":"Ch5","seg":"a","x":322,"y":410},{"ch":"Ch5","seg":"a","x":328,"y":440},{"ch":"Ch5","seg":"a","x":334,"y":468},{"ch":"Ch5","seg":"a","x":340,"y":492},{"ch":"Ch5","seg":"a","x":346,"y":512},{"ch":"Ch5","seg":"a","x":352,"y":530},{"ch":"Ch5","seg":"a","x":358,"y":548},{"ch":"Ch5","seg":"a","x":364,"y":562},{"ch":"Ch5","seg":"a","x":370,"y":590},{"ch":"Ch5","seg":"a","x":376,"y":612},{"ch":"Ch5","seg":"a","x":382,"y":640},{"ch":"Ch5","seg":"a","x":388,"y":665},{"ch":"Ch5","seg":"a","x":394,"y":700},{"ch":"Ch5","seg":"a","x":400,"y":728},{"ch":"Ch5","seg":"a","x":406,"y":765},{"ch":"Ch5","seg":"a","x":413,"y":810},{"ch":"Ch5","seg":"a","x":421,"y":870},{"ch":"Ch5","seg":"a","x":429,"y":930},{"ch":"Ch5","seg":"a","x":437,"y":1000},{"ch":"Ch5","seg":"a","x":445,"y":1070},{"ch":"Ch5","seg":"a","x":453,"y":1150},{"ch":"Ch5","seg":"a","x":461,"y":1250},{"ch":"Ch5","seg":"a","x":469,"y":1350},{"ch":"Ch5","seg":"a","x":477,"y":1480},{"ch":"Ch5","seg":"a","x":485,"y":1600},{"ch":"Ch5","seg":"a","x":493,"y":1750},{"ch":"Ch5","seg":"a","x":501,"y":1950},{"ch":"Ch5","seg":"a","x":508,"y":2150},{"ch":"Ch5","seg":"a","x":511,"y":2250},{"ch":"Ch5","seg":"a","x":511.5,"y":3500},{"ch":"Ch5","seg":"a","x":512,"y":270},
   {"ch":"Ch5","seg":"a","x":516,"y":255},{"ch":"Ch5","seg":"a","x":520,"y":240},{"ch":"Ch5","seg":"a","x":524,"y":265},{"ch":"Ch5","seg":"a","x":528,"y":250},{"ch":"Ch5","seg":"a","x":533,"y":275},{"ch":"Ch5","seg":"a","x":538,"y":290},{"ch":"Ch5","seg":"a","x":545,"y":300},{"ch":"Ch5","seg":"a","x":552,"y":318},{"ch":"Ch5","seg":"a","x":560,"y":340},{"ch":"Ch5","seg":"a","x":569,"y":370},{"ch":"Ch5","seg":"a","x":578,"y":392},{"ch":"Ch5","seg":"a","x":587,"y":425},{"ch":"Ch5","seg":"a","x":596,"y":452},{"ch":"Ch5","seg":"a","x":605,"y":488},{"ch":"Ch5","seg":"a","x":615,"y":518},{"ch":"Ch5","seg":"a","x":625,"y":562},{"ch":"Ch5","seg":"a","x":635,"y":592},{"ch":"Ch5","seg":"a","x":645,"y":632},{"ch":"Ch5","seg":"a","x":655,"y":668},{"ch":"Ch5","seg":"a","x":665,"y":722},{"ch":"Ch5","seg":"a","x":675,"y":778},{"ch":"Ch5","seg":"a","x":685,"y":862},{"ch":"Ch5","seg":"a","x":695,"y":928},{"ch":"Ch5","seg":"a","x":705,"y":1012},{"ch":"Ch5","seg":"a","x":715,"y":1098},{"ch":"Ch5","seg":"a","x":725,"y":1222},{"ch":"Ch5","seg":"a","x":735,"y":1348},{"ch":"Ch5","seg":"a","x":745,"y":1502},{"ch":"Ch5","seg":"a","x":755,"y":1678},{"ch":"Ch5","seg":"a","x":765,"y":1882},{"ch":"Ch5","seg":"a","x":775,"y":2100},{"ch":"Ch5","seg":"a","x":785,"y":2340},{"ch":"Ch5","seg":"a","x":795,"y":2650},{"ch":"Ch5","seg":"a","x":801,"y":2800},{"ch":"Ch5","seg":"a","x":808,"y":3400},{"ch":"Ch5","seg":"a","x":816,"y":4600},{"ch":"Ch5","seg":"a","x":821,"y":6000},{"ch":"Ch5","seg":"a","x":825,"y":7800},{"ch":"Ch5","seg":"a","x":828,"y":11000},{"ch":"Ch5","seg":"a","x":831.5,"y":15000},{"ch":"Ch5","seg":"a","x":834,"y":25000},{"ch":"Ch5","seg":"a","x":837.6,"y":49000},{"ch":"Ch5","seg":"a","x":841,"y":85000},{"ch":"Ch5","seg":"a","x":844,"y":132000},{"ch":"Ch5","seg":"a","x":850,"y":257000},{"ch":"Ch5","seg":"a","x":856,"y":600000},{"ch":"Ch5","seg":"a","x":862,"y":1100000},{"ch":"Ch5","seg":"a","x":868.5,"y":2100000},{"ch":"Ch5","seg":"a","x":874.7,"y":3500000},{"ch":"Ch5","seg":"a","x":881,"y":5900000},{"ch":"Ch5","seg":"a","x":882,"y":350000},{"ch":"Ch5","seg":"a","x":883,"y":1500000},{"ch":"Ch5","seg":"a","x":887,"y":3000000},{"ch":"Ch5","seg":"a","x":893,"y":5900000},{"ch":"Ch5","seg":"a","x":893.5,"y":350000},{"ch":"Ch5","seg":"a","x":895,"y":1000000},{"ch":"Ch5","seg":"a","x":899,"y":1740000},{"ch":"Ch5","seg":"a","x":902.5,"y":2340000},{"ch":"Ch5","seg":"a","x":906,"y":1740000},{"ch":"Ch5","seg":"a","x":910,"y":950000},{"ch":"Ch5","seg":"a","x":913,"y":5000000},{"ch":"Ch5","seg":"a","x":913.5,"y":780000},{"ch":"Ch5","seg":"a","x":915,"y":2500000},{"ch":"Ch5","seg":"a","x":918,"y":5900000},{"ch":"Ch5","seg":"a","x":921,"y":4000000},{"ch":"Ch5","seg":"a","x":924,"y":3160000},{"ch":"Ch5","seg":"a","x":926.5,"y":1000000},{"ch":"Ch5","seg":"a","x":928.7,"y":355000},{"ch":"Ch5","seg":"a","x":931.8,"y":93000},{"ch":"Ch5","seg":"a","x":932.5,"y":52000},{"ch":"Ch5","seg":"a","x":934,"y":60000},{"ch":"Ch5","seg":"a","x":935.8,"y":29000},{"ch":"Ch5","seg":"a","x":936.4,"y":1050},{"ch":"Ch5","seg":"a","x":937.8,"y":31},{"ch":"Ch5","seg":"a","x":942,"y":22},{"ch":"Ch5","seg":"a","x":945,"y":19},{"ch":"Ch5","seg":"a","x":948.6,"y":16},{"ch":"Ch5","seg":"a","x":950,"y":5},{"ch":"Ch5","seg":"a","x":951,"y":1.4},
   {"ch":"Ch5","seg":"b","x":1027,"y":1800},{"ch":"Ch5","seg":"b","x":1035,"y":2000},{"ch":"Ch5","seg":"b","x":1040,"y":2200},{"ch":"Ch5","seg":"b","x":1048,"y":2750},{"ch":"Ch5","seg":"b","x":1055,"y":3100},{"ch":"Ch5","seg":"b","x":1060,"y":3500},{"ch":"Ch5","seg":"b","x":1068,"y":4200},{"ch":"Ch5","seg":"b","x":1075,"y":5000},{"ch":"Ch5","seg":"b","x":1082.5,"y":6500},{"ch":"Ch5","seg":"b","x":1087,"y":9000},{"ch":"Ch5","seg":"b","x":1092,"y":15000},{"ch":"Ch5","seg":"b","x":1097,"y":28000},{"ch":"Ch5","seg":"b","x":1102,"y":51000},{"ch":"Ch5","seg":"b","x":1107,"y":90000},{"ch":"Ch5","seg":"b","x":1111.6,"y":148000},{"ch":"Ch5","seg":"b","x":1118,"y":250000},{"ch":"Ch5","seg":"b","x":1126,"y":420000},{"ch":"Ch5","seg":"b","x":1133,"y":700000},{"ch":"Ch5","seg":"b","x":1141,"y":1200000},{"ch":"Ch5","seg":"b","x":1148,"y":1900000},{"ch":"Ch5","seg":"b","x":1155.6,"y":2750000},{"ch":"Ch5","seg":"b","x":1160,"y":4000000},{"ch":"Ch5","seg":"b","x":1165,"y":5600000},{"ch":"Ch5","seg":"b","x":1167,"y":1500000},{"ch":"Ch5","seg":"b","x":1169,"y":3500000},{"ch":"Ch5","seg":"b","x":1175,"y":3000000},{"ch":"Ch5","seg":"b","x":1180,"y":4000000},{"ch":"Ch5","seg":"b","x":1185,"y":5600000},{"ch":"Ch5","seg":"b","x":1187,"y":3000000},{"ch":"Ch5","seg":"b","x":1190,"y":2500000},{"ch":"Ch5","seg":"b","x":1192,"y":1800000},{"ch":"Ch5","seg":"b","x":1194.5,"y":780000},{"ch":"Ch5","seg":"b","x":1197,"y":200000},{"ch":"Ch5","seg":"b","x":1199.5,"y":51000},{"ch":"Ch5","seg":"b","x":1201,"y":8000},{"ch":"Ch5","seg":"b","x":1202.5,"y":525},{"ch":"Ch5","seg":"b","x":1204,"y":148},{"ch":"Ch5","seg":"b","x":1206,"y":40},{"ch":"Ch5","seg":"b","x":1209,"y":8},{"ch":"Ch5","seg":"b","x":1211,"y":5},{"ch":"Ch5","seg":"b","x":1214,"y":2.3},{"ch":"Ch5","seg":"b","x":1216,"y":2},{"ch":"Ch5","seg":"b","x":1219,"y":1},{"ch":"Ch5","seg":"b","x":1222,"y":0.7},{"ch":"Ch5","seg":"b","x":1224,"y":0.52},

   {"ch":"Ch6","seg":"a","x":0,"y":108},{"ch":"Ch6","seg":"a","x":2,"y":118},{"ch":"Ch6","seg":"a","x":4,"y":115},{"ch":"Ch6","seg":"a","x":6,"y":128},{"ch":"Ch6","seg":"a","x":8,"y":122},{"ch":"Ch6","seg":"a","x":10,"y":138},{"ch":"Ch6","seg":"a","x":12,"y":130},{"ch":"Ch6","seg":"a","x":14,"y":150},{"ch":"Ch6","seg":"a","x":16,"y":142},{"ch":"Ch6","seg":"a","x":18,"y":165},{"ch":"Ch6","seg":"a","x":20,"y":172},{"ch":"Ch6","seg":"a","x":22,"y":160},{"ch":"Ch6","seg":"a","x":24,"y":190},{"ch":"Ch6","seg":"a","x":26,"y":182},{"ch":"Ch6","seg":"a","x":28,"y":176},{"ch":"Ch6","seg":"a","x":30,"y":192},{"ch":"Ch6","seg":"a","x":32,"y":200},{"ch":"Ch6","seg":"a","x":34,"y":196},{"ch":"Ch6","seg":"a","x":36,"y":212},{"ch":"Ch6","seg":"a","x":38,"y":206},{"ch":"Ch6","seg":"a","x":40,"y":224},{"ch":"Ch6","seg":"a","x":43,"y":218},{"ch":"Ch6","seg":"a","x":46,"y":232},{"ch":"Ch6","seg":"a","x":49,"y":226},{"ch":"Ch6","seg":"a","x":52,"y":246},{"ch":"Ch6","seg":"a","x":55,"y":240},{"ch":"Ch6","seg":"a","x":58,"y":262},{"ch":"Ch6","seg":"a","x":61,"y":255},{"ch":"Ch6","seg":"a","x":64,"y":274},{"ch":"Ch6","seg":"a","x":67,"y":268},{"ch":"Ch6","seg":"a","x":70,"y":290},{"ch":"Ch6","seg":"a","x":73,"y":284},{"ch":"Ch6","seg":"a","x":76,"y":300},{"ch":"Ch6","seg":"a","x":79,"y":294},{"ch":"Ch6","seg":"a","x":82,"y":314},{"ch":"Ch6","seg":"a","x":85,"y":306},{"ch":"Ch6","seg":"a","x":88,"y":326},{"ch":"Ch6","seg":"a","x":91,"y":320},{"ch":"Ch6","seg":"a","x":94,"y":342},{"ch":"Ch6","seg":"a","x":97,"y":334},{"ch":"Ch6","seg":"a","x":100,"y":352},{"ch":"Ch6","seg":"a","x":104,"y":348},{"ch":"Ch6","seg":"a","x":108,"y":370},{"ch":"Ch6","seg":"a","x":112,"y":364},{"ch":"Ch6","seg":"a","x":116,"y":386},{"ch":"Ch6","seg":"a","x":120,"y":380},{"ch":"Ch6","seg":"a","x":124,"y":404},{"ch":"Ch6","seg":"a","x":128,"y":398},{"ch":"Ch6","seg":"a","x":132,"y":422},{"ch":"Ch6","seg":"a","x":136,"y":416},{"ch":"Ch6","seg":"a","x":140,"y":440},{"ch":"Ch6","seg":"a","x":144,"y":434},{"ch":"Ch6","seg":"a","x":148,"y":462},{"ch":"Ch6","seg":"a","x":152,"y":455},{"ch":"Ch6","seg":"a","x":156,"y":478},{"ch":"Ch6","seg":"a","x":160,"y":472},{"ch":"Ch6","seg":"a","x":164,"y":500},{"ch":"Ch6","seg":"a","x":168,"y":494},{"ch":"Ch6","seg":"a","x":172,"y":522},{"ch":"Ch6","seg":"a","x":176,"y":516},{"ch":"Ch6","seg":"a","x":180,"y":548},{"ch":"Ch6","seg":"a","x":184,"y":540},{"ch":"Ch6","seg":"a","x":188,"y":568},{"ch":"Ch6","seg":"a","x":192,"y":562},{"ch":"Ch6","seg":"a","x":196,"y":598},{"ch":"Ch6","seg":"a","x":200,"y":610},{"ch":"Ch6","seg":"a","x":205,"y":605},{"ch":"Ch6","seg":"a","x":210,"y":640},{"ch":"Ch6","seg":"a","x":215,"y":655},{"ch":"Ch6","seg":"a","x":220,"y":672},{"ch":"Ch6","seg":"a","x":225,"y":690},{"ch":"Ch6","seg":"a","x":230,"y":712},{"ch":"Ch6","seg":"a","x":238,"y":745},{"ch":"Ch6","seg":"a","x":248,"y":800},{"ch":"Ch6","seg":"a","x":256,"y":850},{"ch":"Ch6","seg":"a","x":265,"y":910},{"ch":"Ch6","seg":"a","x":273,"y":975},{"ch":"Ch6","seg":"a","x":282,"y":1050},{"ch":"Ch6","seg":"a","x":290,"y":1120},{"ch":"Ch6","seg":"a","x":299,"y":1200},{"ch":"Ch6","seg":"a","x":307,"y":1280},{"ch":"Ch6","seg":"a","x":316,"y":1380},{"ch":"Ch6","seg":"a","x":325,"y":1460},{"ch":"Ch6","seg":"a","x":333,"y":1550},{"ch":"Ch6","seg":"a","x":341,"y":1650},{"ch":"Ch6","seg":"a","x":350,"y":1750},{"ch":"Ch6","seg":"a","x":358,"y":1840},{"ch":"Ch6","seg":"a","x":367,"y":1950},{"ch":"Ch6","seg":"a","x":375,"y":2070},{"ch":"Ch6","seg":"a","x":384,"y":2200},{"ch":"Ch6","seg":"a","x":392,"y":2330},{"ch":"Ch6","seg":"a","x":400,"y":2450},{"ch":"Ch6","seg":"a","x":409,"y":2700},{"ch":"Ch6","seg":"a","x":418,"y":3000},{"ch":"Ch6","seg":"a","x":427,"y":3300},{"ch":"Ch6","seg":"a","x":436,"y":3700},{"ch":"Ch6","seg":"a","x":441,"y":4000},{"ch":"Ch6","seg":"a","x":446,"y":4400},{"ch":"Ch6","seg":"a","x":451,"y":4900},{"ch":"Ch6","seg":"a","x":456,"y":5500},{"ch":"Ch6","seg":"a","x":460,"y":6300},{"ch":"Ch6","seg":"a","x":463,"y":7100},{"ch":"Ch6","seg":"a","x":467,"y":8700},{"ch":"Ch6","seg":"a","x":470,"y":10700},{"ch":"Ch6","seg":"a","x":473,"y":13000},{"ch":"Ch6","seg":"a","x":475,"y":15000},{"ch":"Ch6","seg":"a","x":478,"y":20000},{"ch":"Ch6","seg":"a","x":480,"y":25000},{"ch":"Ch6","seg":"a","x":482,"y":30000},{"ch":"Ch6","seg":"a","x":484,"y":36000},{"ch":"Ch6","seg":"a","x":487,"y":49000},{"ch":"Ch6","seg":"a","x":490,"y":60000},{"ch":"Ch6","seg":"a","x":492,"y":65000},{"ch":"Ch6","seg":"a","x":494,"y":72000},{"ch":"Ch6","seg":"a","x":497,"y":88000},{"ch":"Ch6","seg":"a","x":499,"y":100000},{"ch":"Ch6","seg":"a","x":502,"y":118000},{"ch":"Ch6","seg":"a","x":504,"y":132000},{"ch":"Ch6","seg":"a","x":506,"y":150000},{"ch":"Ch6","seg":"a","x":508,"y":180000},{"ch":"Ch6","seg":"a","x":510,"y":210000},{"ch":"Ch6","seg":"a","x":511,"y":240000},{"ch":"Ch6","seg":"a","x":512,"y":850},
   {"ch":"Ch6","seg":"a","x":516,"y":830},{"ch":"Ch6","seg":"a","x":520,"y":820},{"ch":"Ch6","seg":"a","x":525,"y":860},{"ch":"Ch6","seg":"a","x":530,"y":880},{"ch":"Ch6","seg":"a","x":538,"y":930},{"ch":"Ch6","seg":"a","x":545,"y":970},{"ch":"Ch6","seg":"a","x":550,"y":1000},{"ch":"Ch6","seg":"a","x":560,"y":1100},{"ch":"Ch6","seg":"a","x":569,"y":1200},{"ch":"Ch6","seg":"a","x":577,"y":1250},{"ch":"Ch6","seg":"a","x":585,"y":1300},{"ch":"Ch6","seg":"a","x":592,"y":1350},{"ch":"Ch6","seg":"a","x":600,"y":1400},{"ch":"Ch6","seg":"a","x":608,"y":1470},{"ch":"Ch6","seg":"a","x":615,"y":1550},{"ch":"Ch6","seg":"a","x":623,"y":1660},{"ch":"Ch6","seg":"a","x":631,"y":1780},{"ch":"Ch6","seg":"a","x":639,"y":1900},{"ch":"Ch6","seg":"a","x":646,"y":2050},{"ch":"Ch6","seg":"a","x":654,"y":2200},{"ch":"Ch6","seg":"a","x":662,"y":2340},{"ch":"Ch6","seg":"a","x":670,"y":2500},{"ch":"Ch6","seg":"a","x":677,"y":2700},{"ch":"Ch6","seg":"a","x":685,"y":2850},{"ch":"Ch6","seg":"a","x":692,"y":3000},{"ch":"Ch6","seg":"a","x":700,"y":3250},{"ch":"Ch6","seg":"a","x":706,"y":3500},{"ch":"Ch6","seg":"a","x":713,"y":3850},{"ch":"Ch6","seg":"a","x":720,"y":4250},{"ch":"Ch6","seg":"a","x":727,"y":4800},{"ch":"Ch6","seg":"a","x":733,"y":5500},{"ch":"Ch6","seg":"a","x":736,"y":6500},{"ch":"Ch6","seg":"a","x":739,"y":7800},{"ch":"Ch6","seg":"a","x":742,"y":9200},{"ch":"Ch6","seg":"a","x":745,"y":11000},{"ch":"Ch6","seg":"a","x":749,"y":13000},{"ch":"Ch6","seg":"a","x":752,"y":15500},{"ch":"Ch6","seg":"a","x":754,"y":18000},{"ch":"Ch6","seg":"a","x":757,"y":23000},{"ch":"Ch6","seg":"a","x":760.5,"y":31000},{"ch":"Ch6","seg":"a","x":764,"y":42000},{"ch":"Ch6","seg":"a","x":767,"y":59000},{"ch":"Ch6","seg":"a","x":769,"y":90000},{"ch":"Ch6","seg":"a","x":770,"y":132000},{"ch":"Ch6","seg":"a","x":773,"y":200000},{"ch":"Ch6","seg":"a","x":776,"y":270000},{"ch":"Ch6","seg":"a","x":780,"y":380000},{"ch":"Ch6","seg":"a","x":785,"y":525000},{"ch":"Ch6","seg":"a","x":790,"y":720000},{"ch":"Ch6","seg":"a","x":794,"y":950000},{"ch":"Ch6","seg":"a","x":799,"y":1300000},{"ch":"Ch6","seg":"a","x":803.7,"y":1740000},{"ch":"Ch6","seg":"a","x":807,"y":2100000},{"ch":"Ch6","seg":"a","x":810,"y":2570000},{"ch":"Ch6","seg":"a","x":813,"y":3300000},{"ch":"Ch6","seg":"a","x":816,"y":4100000},{"ch":"Ch6","seg":"a","x":819,"y":4900000},{"ch":"Ch6","seg":"a","x":822,"y":5750000},{"ch":"Ch6","seg":"a","x":823,"y":180000},{"ch":"Ch6","seg":"a","x":824.5,"y":1500000},{"ch":"Ch6","seg":"a","x":828,"y":2300000},{"ch":"Ch6","seg":"a","x":832,"y":2700000},{"ch":"Ch6","seg":"a","x":835,"y":3000000},{"ch":"Ch6","seg":"a","x":838,"y":4000000},{"ch":"Ch6","seg":"a","x":841,"y":5750000},{"ch":"Ch6","seg":"a","x":842,"y":460000},{"ch":"Ch6","seg":"a","x":844,"y":2000000},{"ch":"Ch6","seg":"a","x":847,"y":2200000},{"ch":"Ch6","seg":"a","x":850,"y":2500000},{"ch":"Ch6","seg":"a","x":853,"y":2900000},{"ch":"Ch6","seg":"a","x":856,"y":3000000},{"ch":"Ch6","seg":"a","x":860,"y":2900000},{"ch":"Ch6","seg":"a","x":862,"y":2600000},{"ch":"Ch6","seg":"a","x":864,"y":1500000},{"ch":"Ch6","seg":"a","x":866,"y":400000},{"ch":"Ch6","seg":"a","x":868,"y":3000000},{"ch":"Ch6","seg":"a","x":871,"y":3800000},{"ch":"Ch6","seg":"a","x":874,"y":4500000},{"ch":"Ch6","seg":"a","x":878,"y":5750000},{"ch":"Ch6","seg":"a","x":879,"y":800000},{"ch":"Ch6","seg":"a","x":880.5,"y":5750000},{"ch":"Ch6","seg":"a","x":883,"y":4500000},{"ch":"Ch6","seg":"a","x":886,"y":3500000},{"ch":"Ch6","seg":"a","x":890,"y":2500000},{"ch":"Ch6","seg":"a","x":893,"y":1740000},{"ch":"Ch6","seg":"a","x":898,"y":900000},{"ch":"Ch6","seg":"a","x":902,"y":410000},{"ch":"Ch6","seg":"a","x":905,"y":200000},{"ch":"Ch6","seg":"a","x":907,"y":110000},{"ch":"Ch6","seg":"a","x":909,"y":55000},{"ch":"Ch6","seg":"a","x":911,"y":25000},{"ch":"Ch6","seg":"a","x":914,"y":5000},{"ch":"Ch6","seg":"a","x":916,"y":2700},{"ch":"Ch6","seg":"a","x":918,"y":1500},{"ch":"Ch6","seg":"a","x":921,"y":250},{"ch":"Ch6","seg":"a","x":924,"y":18},{"ch":"Ch6","seg":"a","x":926,"y":4},{"ch":"Ch6","seg":"a","x":927,"y":2},{"ch":"Ch6","seg":"a","x":929,"y":0.5},
   {"ch":"Ch6","seg":"b","x":1027,"y":47000},{"ch":"Ch6","seg":"b","x":1033,"y":90000},{"ch":"Ch6","seg":"b","x":1039,"y":148000},{"ch":"Ch6","seg":"b","x":1044,"y":270000},{"ch":"Ch6","seg":"b","x":1048.6,"y":420000},{"ch":"Ch6","seg":"b","x":1053,"y":650000},{"ch":"Ch6","seg":"b","x":1058,"y":950000},{"ch":"Ch6","seg":"b","x":1063,"y":1400000},{"ch":"Ch6","seg":"b","x":1068,"y":1800000},{"ch":"Ch6","seg":"b","x":1075,"y":2300000},{"ch":"Ch6","seg":"b","x":1082.5,"y":2750000},{"ch":"Ch6","seg":"b","x":1088,"y":3000000},{"ch":"Ch6","seg":"b","x":1092,"y":5800000},{"ch":"Ch6","seg":"b","x":1093,"y":1000000},{"ch":"Ch6","seg":"b","x":1095,"y":2800000},{"ch":"Ch6","seg":"b","x":1100,"y":3000000},{"ch":"Ch6","seg":"b","x":1105,"y":5800000},{"ch":"Ch6","seg":"b","x":1106,"y":700000},{"ch":"Ch6","seg":"b","x":1108,"y":2500000},{"ch":"Ch6","seg":"b","x":1113,"y":3000000},{"ch":"Ch6","seg":"b","x":1118,"y":3300000},{"ch":"Ch6","seg":"b","x":1123,"y":3100000},{"ch":"Ch6","seg":"b","x":1128,"y":5800000},{"ch":"Ch6","seg":"b","x":1129,"y":800000},{"ch":"Ch6","seg":"b","x":1131,"y":3000000},{"ch":"Ch6","seg":"b","x":1136,"y":5800000},{"ch":"Ch6","seg":"b","x":1137,"y":1500000},{"ch":"Ch6","seg":"b","x":1140,"y":3500000},{"ch":"Ch6","seg":"b","x":1145,"y":2800000},{"ch":"Ch6","seg":"b","x":1150,"y":5800000},{"ch":"Ch6","seg":"b","x":1152,"y":2000000},{"ch":"Ch6","seg":"b","x":1158,"y":2400000},{"ch":"Ch6","seg":"b","x":1165,"y":1800000},{"ch":"Ch6","seg":"b","x":1170,"y":1200000},{"ch":"Ch6","seg":"b","x":1175,"y":780000},{"ch":"Ch6","seg":"b","x":1180,"y":400000},{"ch":"Ch6","seg":"b","x":1185,"y":148000},{"ch":"Ch6","seg":"b","x":1190,"y":50000},{"ch":"Ch6","seg":"b","x":1194.5,"y":18000},{"ch":"Ch6","seg":"b","x":1198,"y":4500},{"ch":"Ch6","seg":"b","x":1201,"y":1480},{"ch":"Ch6","seg":"b","x":1204,"y":200},{"ch":"Ch6","seg":"b","x":1206,"y":65},{"ch":"Ch6","seg":"b","x":1208,"y":20},{"ch":"Ch6","seg":"b","x":1209,"y":8},{"ch":"Ch6","seg":"b","x":1211,"y":3},{"ch":"Ch6","seg":"b","x":1214,"y":1.2}
  ]
 },
 "layer": [
  {
   "data": {"name": "series"},
   "mark": {"type": "line", "strokeWidth": 1.1},
   "encoding": {
    "x": {"field": "x", "type": "quantitative",
     "scale": {"domain": [0, 1400], "nice": false, "zero": false},
     "axis": {"orient": "bottom", "values": [0,200,400,600,800,1000,1200,1400], "format": "d",
      "labelExpr": "datum.value == 600 || datum.value == 800 ? '' : datum.label",
      "labelFont": "DejaVu Sans", "labelFontSize": 12, "labelColor": "#4d4d4d", "labelPadding": 19, "labelFlush": false, "labelOverlap": false,
      "grid": true, "gridColor": "#e3e3e3", "gridWidth": 1,
      "tickSize": -11, "tickColor": "#262626", "domainColor": "#262626",
      "title": "V threshold [~mV]", "titleFont": "Lato", "titleFontSize": 44.5, "titleFontWeight": "normal", "titleColor": "#000000",
      "titleY": 48, "titleBaseline": "middle"}},
    "y": {"field": "y", "type": "quantitative",
     "scale": {"type": "log", "domain": [0.1, 10000000], "nice": false},
     "axis": {"orient": "left",
      "values": [0.1,0.2,0.3,0.4,0.5,0.6,0.7,0.8,0.9,1,2,3,4,5,6,7,8,9,10,20,30,40,50,60,70,80,90,100,200,300,400,500,600,700,800,900,1000,2000,3000,4000,5000,6000,7000,8000,9000,10000,20000,30000,40000,50000,60000,70000,80000,90000,100000,200000,300000,400000,500000,600000,700000,800000,900000,1000000,2000000,3000000,4000000,5000000,6000000,7000000,8000000,9000000,10000000],
      "labelExpr": "abs(log(datum.value)/LN10 - round(log(datum.value)/LN10)) < 0.001 ? ['10⁻¹','10⁰','10¹','10²','10³','10⁴','10⁵','10⁶','10⁷'][round(log(datum.value)/LN10)+1] : ''",
      "labelFont": "DejaVu Sans", "labelFontSize": 13, "labelColor": "#4d4d4d", "labelPadding": 18, "labelOverlap": false, "labelFlush": false,
      "grid": true,
      "gridColor": {"condition": {"test": "abs(log(datum.value)/LN10 - round(log(datum.value)/LN10)) < 0.001", "value": "#e3e3e3"}, "value": "#c8c8c8"},
      "gridDash": {"condition": {"test": "abs(log(datum.value)/LN10 - round(log(datum.value)/LN10)) < 0.001", "value": []}, "value": [1, 3]},
      "tickSize": {"condition": {"test": "abs(log(datum.value)/LN10 - round(log(datum.value)/LN10)) < 0.001", "value": -13}, "value": -7},
      "tickColor": "#262626", "domainColor": "#262626",
      "title": "Counts #", "titleFont": "Lato", "titleFontSize": 44, "titleFontWeight": "normal", "titleColor": "#000000",
      "titleX": -77, "titleY": 375, "titleAlign": "center", "titleBaseline": "middle", "titleAngle": -90}},
    "color": {"field": "ch", "type": "nominal",
     "scale": {"domain": ["Ch0","Ch1","Ch5","Ch6"], "range": ["#0072BD","#D95319","#EDB120","#7E2F8E"]},
     "legend": {"orient": "none", "legendX": 1420, "legendY": 13, "title": null,
      "symbolType": "M-3,0H3", "symbolSize": 144, "symbolStrokeWidth": 1.5, "symbolOffset": 13,
      "labelFont": "DejaVu Sans", "labelFontSize": 11, "labelColor": "#000000", "labelOffset": 18,
      "strokeColor": "#262626", "fillColor": "white", "padding": 4, "rowPadding": 3.7}},
    "detail": {"field": "seg"}
   }
  },
  {
   "data": {"values": [{"level": 1515, "from": 8, "to": 1336}]},
   "mark": {"type": "rule", "color": "#FF0000", "strokeWidth": 5, "strokeDash": [24, 18.5]},
   "encoding": {
    "x": {"field": "from", "type": "quantitative", "scale": {"domain": [0, 1400], "nice": false, "zero": false},
     "axis": {"orient": "top", "values": [0,200,400,600,800,1000,1200,1400], "labels": false, "grid": false, "tickSize": -11, "tickColor": "#262626", "domainColor": "#262626", "title": null}},
    "x2": {"field": "to"},
    "y": {"field": "level", "type": "quantitative", "scale": {"type": "log", "domain": [0.1, 10000000], "nice": false},
     "axis": {"orient": "right",
      "values": [0.1,0.2,0.3,0.4,0.5,0.6,0.7,0.8,0.9,1,2,3,4,5,6,7,8,9,10,20,30,40,50,60,70,80,90,100,200,300,400,500,600,700,800,900,1000,2000,3000,4000,5000,6000,7000,8000,9000,10000,20000,30000,40000,50000,60000,70000,80000,90000,100000,200000,300000,400000,500000,600000,700000,800000,900000,1000000,2000000,3000000,4000000,5000000,6000000,7000000,8000000,9000000,10000000],
      "labels": false, "grid": false,
      "tickSize": {"condition": {"test": "abs(log(datum.value)/LN10 - round(log(datum.value)/LN10)) < 0.001", "value": -13}, "value": -7},
      "tickColor": "#262626", "domainColor": "#262626", "title": null}}
   }
  },
  {
   "data": {"values": [{"x0": 147, "x1": 696, "y0": 0.577, "y1": 27.9}]},
   "mark": {"type": "rect", "fill": "white", "stroke": "#FF0000", "strokeWidth": 5},
   "encoding": {
    "x": {"field": "x0", "type": "quantitative", "scale": {"domain": [0, 1400], "nice": false, "zero": false}, "axis": null},
    "x2": {"field": "x1"},
    "y": {"field": "y0", "type": "quantitative", "scale": {"type": "log", "domain": [0.1, 10000000], "nice": false}, "axis": null},
    "y2": {"field": "y1"}
   }
  },
  {
   "data": {"values": [
    {"line": "Difficult to find “good” SiPM", "x": 165, "y": 9.08},
    {"line": "thresholds providing same", "x": 165, "y": 2.89},
    {"line": "counts for all sensors", "x": 165, "y": 0.95}
   ]},
   "mark": {"type": "text", "align": "left", "baseline": "alphabetic", "font": "Lato", "fontSize": 44.5, "color": "#000000"},
   "encoding": {
    "x": {"field": "x", "type": "quantitative", "scale": {"domain": [0, 1400], "nice": false, "zero": false}, "axis": null},
    "y": {"field": "y", "type": "quantitative", "scale": {"type": "log", "domain": [0.1, 10000000], "nice": false}, "axis": null},
    "text": {"field": "line"}
   }
  },
  {
   "data": {"values": [{"x0": 958.6, "x1": 1370, "y0": 0.127, "y1": 0.577}]},
   "mark": {"type": "rect", "fill": "white", "stroke": "#0070C0", "strokeWidth": 2},
   "encoding": {
    "x": {"field": "x0", "type": "quantitative", "scale": {"domain": [0, 1400], "nice": false, "zero": false}, "axis": null},
    "x2": {"field": "x1"},
    "y": {"field": "y0", "type": "quantitative", "scale": {"type": "log", "domain": [0.1, 10000000], "nice": false}, "axis": null},
    "y2": {"field": "y1"}
   }
  },
  {
   "data": {"values": [
    {"word": "CH0", "x": 976, "y": 0.1945},
    {"word": "CH1", "x": 1061, "y": 0.1945},
    {"word": "//", "x": 1149, "y": 0.1945},
    {"word": "CH5", "x": 1190, "y": 0.1945},
    {"word": "CH6", "x": 1275, "y": 0.1945}
   ]},
   "mark": {"type": "text", "align": "left", "baseline": "alphabetic", "font": "Lato", "fontSize": 40},
   "encoding": {
    "x": {"field": "x", "type": "quantitative", "scale": {"domain": [0, 1400], "nice": false, "zero": false}, "axis": null},
    "y": {"field": "y", "type": "quantitative", "scale": {"type": "log", "domain": [0.1, 10000000], "nice": false}, "axis": null},
    "text": {"field": "word"},
    "fill": {"field": "word", "type": "nominal", "scale": {"domain": ["CH0","CH1","//","CH5","CH6"], "range": ["#0070C0","#C55A11","#000000","#FFC000","#7030A0"]}, "legend": null}
   }
  }
 ],
 "resolve": {"axis": {"x": "independent", "y": "independent"}}
}
